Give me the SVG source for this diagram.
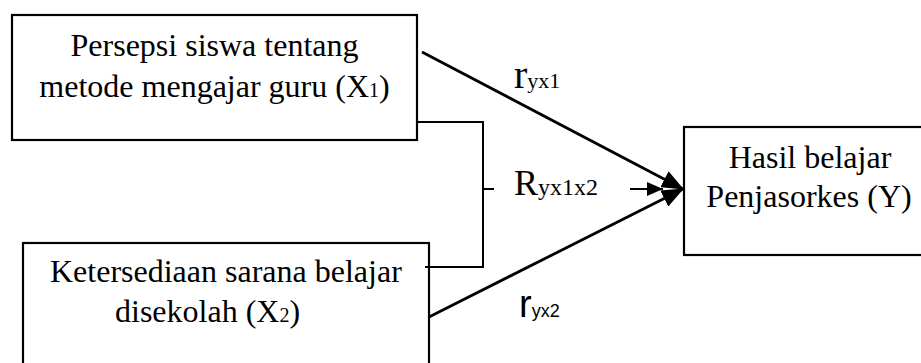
<svg xmlns="http://www.w3.org/2000/svg" width="921" height="363" viewBox="0 0 921 363">
  <style>
    .box { fill: #ffffff; stroke: #000000; stroke-width: 2.2; }
    .lbl { font-family: "Liberation Serif", "Times New Roman", serif; font-size: 32px; fill: #000000; }
    .coef { font-family: "Liberation Serif", "Times New Roman", serif; fill: #000000; }
    .coefs { font-family: "Liberation Sans", Arial, sans-serif; fill: #000000; }
    .wire { fill: none; stroke: #000000; stroke-width: 2; }
    .path { fill: none; stroke: #000000; stroke-width: 2.8; }
  </style>
  <defs>
    <marker id="head" viewBox="0 0 22 18" refX="21" refY="9" markerWidth="22" markerHeight="18" markerUnits="userSpaceOnUse" orient="auto">
      <path d="M0,0 L22,9 L0,18 z" fill="#000000"/>
    </marker>
    <marker id="headSmall" viewBox="0 0 16 14" refX="16" refY="7" markerWidth="16" markerHeight="14" markerUnits="userSpaceOnUse" orient="auto">
      <path d="M0,0 L16,7 L0,14 z" fill="#000000"/>
    </marker>
  </defs>

  <g id="x1">
    <rect class="box" x="12" y="15" width="405" height="125"/>
    <text class="lbl" x="214.5" y="56" text-anchor="middle">Persepsi siswa tentang</text>
    <text class="lbl" x="214.5" y="97" text-anchor="middle">metode mengajar guru (X<tspan font-size="20px">1</tspan>)</text>
  </g>

  <g id="x2">
    <rect class="box" x="23" y="243" width="406" height="140"/>
    <text class="lbl" x="50" y="282">Ketersediaan sarana belajar</text>
    <text class="lbl" x="115" y="322">disekolah (X<tspan font-size="20px">2</tspan>)</text>
  </g>

  <g id="y">
    <rect class="box" x="684" y="127" width="260" height="128"/>
    <text class="lbl" x="810" y="168" text-anchor="middle">Hasil belajar</text>
    <text class="lbl" x="809" y="207" text-anchor="middle">Penjasorkes (Y)</text>
  </g>

  <g id="connectors">
    <!-- joint relation bracket between X1 and X2 -->
    <polyline class="wire" points="417,122 483,122 483,267 425,267"/>
    <line class="wire" x1="483" y1="189" x2="494" y2="189"/>
    <line class="wire" x1="630" y1="189" x2="663" y2="189" marker-end="url(#headSmall)"/>
    <!-- direct paths -->
    <line class="path" x1="422" y1="52" x2="683" y2="189" marker-end="url(#head)"/>
    <line class="path" x1="429" y1="317" x2="683" y2="189" marker-end="url(#head)"/>
  </g>

  <g id="labels">
    <text class="coef" x="514" y="88" font-size="40px">r<tspan font-size="22px">yx1</tspan></text>
    <text class="coef" x="514" y="195" font-size="36px">R<tspan font-size="24px">yx1x2</tspan></text>
    <text class="coefs" x="519" y="317" font-size="38px">r<tspan font-size="18px">yx2</tspan></text>
  </g>
</svg>
